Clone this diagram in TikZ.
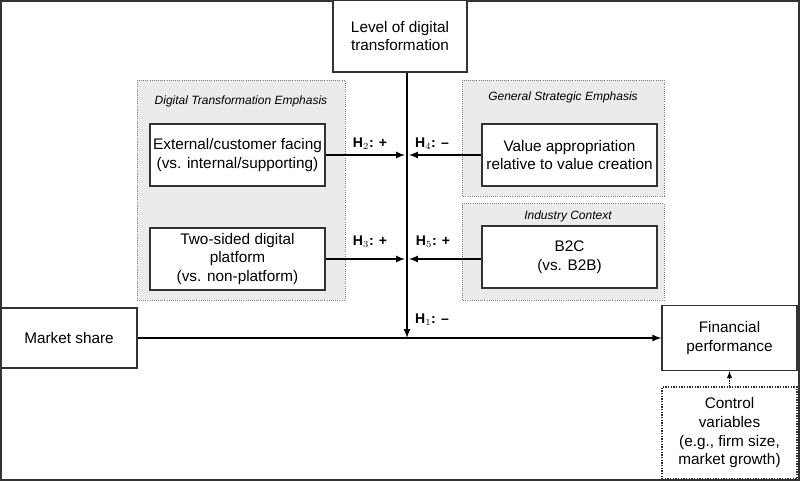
\documentclass[tikz,border=0pt]{standalone}
\usepackage{fontspec}
\setmainfont{Liberation Sans}
\begin{document}
\begin{tikzpicture}[x=0.75pt,y=-0.75pt,
  box/.style={draw=black!80,line width=1pt,fill=white,align=center,font=\fontsize{11.5}{14}\selectfont,inner sep=0pt},
  grp/.style={draw=black!50,densely dotted,fill=black!8,line width=0.6pt},
  ttl/.style={font=\itshape\fontsize{9}{11}\selectfont},
  hl/.style={font=\bfseries\fontsize{10.5}{12}\selectfont},
  arr/.style={line width=1.3pt,-latex}]
\useasboundingbox (0,0) rectangle (800,481);
\draw[line width=1.5pt,black!80] (1,1) rectangle (799,480);
\fill[grp] (137,80) rectangle (345,300);
\fill[grp] (462,80) rectangle (664,196);
\fill[grp] (462,203) rectangle (664,300);
\draw[grp] (137,80) rectangle (345,300);
\draw[grp] (462,80) rectangle (664,196);
\draw[grp] (462,203) rectangle (664,300);
\node[ttl] (t1) at (241,101) {Digital Transformation Emphasis};
\node[ttl] (t2) at (563,97) {General Strategic Emphasis};
\node[ttl] (t3) at (568,216) {Industry Context};
\node[box,minimum width=100.5pt,minimum height=54pt] (lvl) at (400,36) {Level of digital\\transformation};
\node[box,minimum width=131.25pt,minimum height=46.5pt] (ext) at (237.5,155) {External/customer facing\\(vs. internal/supporting)};
\node[box,minimum width=131.25pt,minimum height=46.5pt] (two) at (237.5,259) {Two-sided digital\\platform\\(vs. non-platform)};
\node[box,minimum width=131.25pt,minimum height=46.5pt] (val) at (569.5,155) {Value appropriation\\relative to value creation};
\node[box,minimum width=131.25pt,minimum height=46.5pt] (b2c) at (569.5,257) {B2C\\(vs. B2B)};
\node[box,minimum width=102pt,minimum height=45pt] (ms) at (69,338) {Market share};
\node[box,minimum width=101.25pt,minimum height=48.75pt] (fin) at (729.5,338) {Financial\\performance};
\node[box,densely dotted,minimum width=101.25pt,minimum height=69pt] (ctl) at (729.5,433) {Control\\variables\\(e.g., firm size,\\market growth)};
\coordinate (x) at (407,338);
\coordinate (a) at (407,155);
\coordinate (b) at (407,259);
\draw[arr] (lvl.south -| x) -- (x);
\draw[arr] (ms) -- (fin);
\draw[arr] (ext) -- ([xshift=-1.5pt]a);
\draw[arr] (val) -- ([xshift=1.5pt]a);
\draw[arr] (two) -- ([xshift=-1.5pt]b);
\draw[arr] (b2c.west |- b) -- ([xshift=1.5pt]b);
\draw[densely dotted,line width=0.8pt,-latex] (ctl) -- (fin);
\node[hl] (h2) at (370,144) {H$_2$: +};
\node[hl] (h4) at (432,144) {H$_4$: --};
\node[hl] (h3) at (370,242) {H$_3$: +};
\node[hl] (h5) at (433,242) {H$_5$: +};
\node[hl] (h1) at (432,320) {H$_1$: --};
\end{tikzpicture}
\end{document}
